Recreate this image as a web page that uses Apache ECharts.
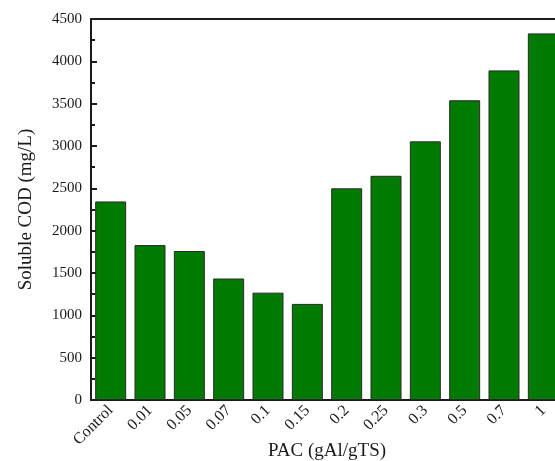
<!DOCTYPE html>
<html>
<head>
<meta charset="utf-8">
<script src="https://cdn.jsdelivr.net/npm/echarts@6/dist/echarts.min.js"></script>
<style>
  html, body { margin: 0; padding: 0; background: #ffffff; }
  #chart { width: 555px; height: 461px; }
</style>
</head>
<body>
<div id="chart"></div>
<script>
// PAC dose categories (gAl/gTS)
const categories = ['Control', '0.01', '0.05', '0.07', '0.1', '0.15', '0.2', '0.25', '0.3', '0.5', '0.7', '1'];
// Soluble COD (mg/L) for each dose
const solubleCOD = [2345, 1830, 1760, 1435, 1268, 1135, 2500, 2648, 3055, 3540, 3893, 4330];
// Y axis range and step
const yMin = 0;
const yMax = 4500;
const yStep = 500;

const serif = '"Liberation Serif", "Times New Roman", serif';
const ink = '#1a1a1a';

const chart = echarts.init(document.getElementById('chart'), null, { renderer: 'canvas' });
chart.setOption({
  animation: false,
  backgroundColor: '#ffffff',
  grid: { left: 91, top: 19, width: 472, bottom: 61, containLabel: false, outerBoundsMode: 'none' },
  xAxis: [
    {
      type: 'category',
      data: categories,
      position: 'bottom',
      name: 'PAC (gAl/gTS)',
      nameLocation: 'middle',
      nameGap: 42,
      nameMoveOverlap: false,
      nameTextStyle: { fontFamily: serif, fontSize: 19, color: ink },
      axisLine: { show: true, lineStyle: { color: ink, width: 2 } },
      axisTick: { show: false },
      axisLabel: {
        rotate: 45,
        fontFamily: serif,
        fontSize: 16,
        color: ink,
        margin: 8,
        interval: 0
      },
      splitLine: { show: false }
    },
    {
      type: 'category',
      data: categories,
      position: 'top',
      axisLine: { show: true, lineStyle: { color: ink, width: 2 } },
      axisTick: { show: false },
      axisLabel: { show: false },
      splitLine: { show: false }
    }
  ],
  yAxis: {
    type: 'value',
    min: yMin,
    max: yMax,
    interval: yStep,
    name: 'Soluble COD (mg/L)',
    nameLocation: 'middle',
    nameGap: 55,
    nameMoveOverlap: false,
    nameTextStyle: { fontFamily: serif, fontSize: 19, color: ink },
    axisLine: { show: true, lineStyle: { color: ink, width: 2 } },
    axisTick: { show: true, inside: true, length: 6, lineStyle: { color: ink, width: 2 } },
    minorTick: { show: true, splitNumber: 2, length: 4, lineStyle: { color: ink, width: 2 } },
    axisLabel: {
      fontFamily: serif,
      fontSize: 15,
      color: ink,
      margin: 9,
      formatter: (v) => String(v)
    },
    splitLine: { show: false }
  },
  series: [
    {
      type: 'bar',
      data: solubleCOD,
      barWidth: 31,
      itemStyle: { color: '#007a00', borderColor: '#2a2a2a', borderWidth: 1 }
    }
  ]
});
</script>
</body>
</html>
